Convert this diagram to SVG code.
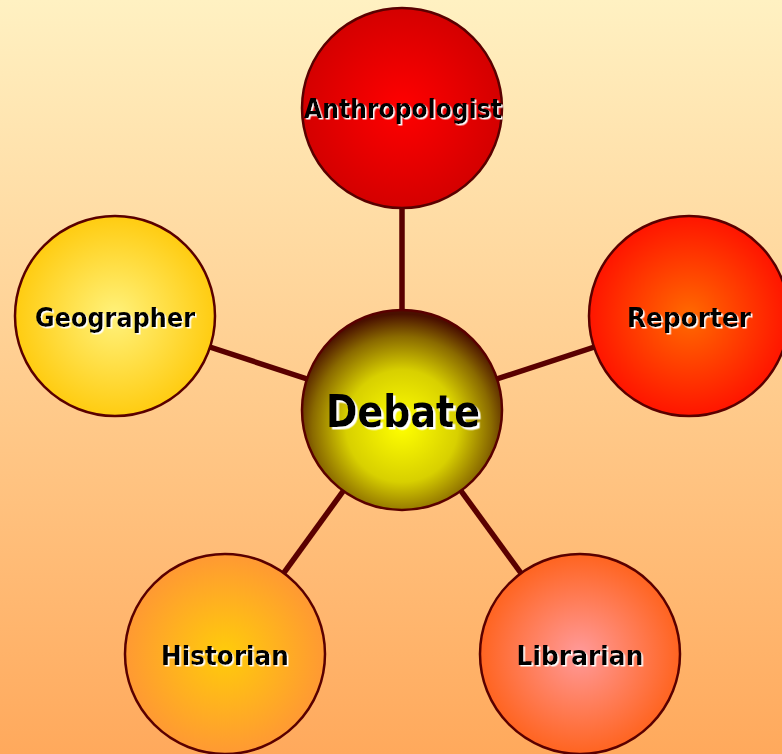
<svg xmlns="http://www.w3.org/2000/svg" width="782" height="754" viewBox="0 0 782 754">
<defs>
<linearGradient id="bg" x1="0" y1="0" x2="0" y2="1">
<stop offset="0" stop-color="#fff1c2"/>
<stop offset="1" stop-color="#ffa95c"/>
</linearGradient>
<radialGradient id="gDebate" cx="0.5" cy="0.58" r="0.56">
<stop offset="0" stop-color="#ffff00"/>
<stop offset="0.5" stop-color="#d8d000"/>
<stop offset="0.8" stop-color="#8a6a00"/>
<stop offset="1" stop-color="#4a1000"/>
</radialGradient>
<radialGradient id="gAnth" cx="0.5" cy="0.5" r="0.5">
<stop offset="0" stop-color="#ff0000"/>
<stop offset="1" stop-color="#d40000"/>
</radialGradient>
<radialGradient id="gGeo" cx="0.5" cy="0.5" r="0.5">
<stop offset="0" stop-color="#fff27c"/>
<stop offset="1" stop-color="#ffcc11"/>
</radialGradient>
<radialGradient id="gRep" cx="0.5" cy="0.5" r="0.5">
<stop offset="0" stop-color="#ff6a00"/>
<stop offset="1" stop-color="#ff1500"/>
</radialGradient>
<radialGradient id="gHist" cx="0.5" cy="0.5" r="0.5">
<stop offset="0" stop-color="#ffcc0a"/>
<stop offset="1" stop-color="#ff9933"/>
</radialGradient>
<radialGradient id="gLib" cx="0.5" cy="0.5" r="0.5">
<stop offset="0" stop-color="#ff9a9a"/>
<stop offset="1" stop-color="#ff6420"/>
</radialGradient>
<filter id="wsh" x="-10%" y="-20%" width="120%" height="140%">
<feDropShadow dx="1.5" dy="1.5" stdDeviation="0.3" flood-color="#ffffff" flood-opacity="1"/>
</filter>
<filter id="wshBig" x="-10%" y="-20%" width="120%" height="140%">
<feDropShadow dx="2.5" dy="2.5" stdDeviation="0.4" flood-color="#ffffff" flood-opacity="1"/>
</filter>
</defs>
<style>
.node{stroke:#5a0000;stroke-width:2.5}
.conn{stroke:#5a0000;stroke-width:5.5;fill:none}
.lbl{font-family:"Comic Sans MS","DejaVu Sans",sans-serif;font-weight:bold;text-anchor:middle;font-size:26px;fill:#000;filter:url(#wsh)}
.big{font-size:44px;filter:url(#wshBig)}
</style>
<rect x="0" y="0" width="782" height="754" fill="url(#bg)"/>
<g id="connectors">
<line class="conn" x1="402" y1="410" x2="402" y2="108"/>
<line class="conn" x1="402" y1="410" x2="115" y2="316"/>
<line class="conn" x1="402" y1="410" x2="689" y2="316"/>
<line class="conn" x1="402" y1="410" x2="225" y2="654"/>
<line class="conn" x1="402" y1="410" x2="580" y2="654"/>
</g>
<g id="anthropologist">
<circle class="node" cx="402" cy="108" r="100" fill="url(#gAnth)"/>
<text class="lbl" x="403" y="118" textLength="198" lengthAdjust="spacingAndGlyphs">Anthropologist</text>
</g>
<g id="geographer">
<circle class="node" cx="115" cy="316" r="100" fill="url(#gGeo)"/>
<text class="lbl" x="115" y="327" textLength="160" lengthAdjust="spacingAndGlyphs">Geographer</text>
</g>
<g id="reporter">
<circle class="node" cx="689" cy="316" r="100" fill="url(#gRep)"/>
<text class="lbl" x="689" y="327" textLength="124" lengthAdjust="spacingAndGlyphs">Reporter</text>
</g>
<g id="historian">
<circle class="node" cx="225" cy="654" r="100" fill="url(#gHist)"/>
<text class="lbl" x="225" y="665" textLength="128" lengthAdjust="spacingAndGlyphs">Historian</text>
</g>
<g id="librarian">
<circle class="node" cx="580" cy="654" r="100" fill="url(#gLib)"/>
<text class="lbl" x="580" y="665" textLength="127" lengthAdjust="spacingAndGlyphs">Librarian</text>
</g>
<g id="debate">
<circle class="node" cx="402" cy="410" r="100" fill="url(#gDebate)"/>
<text class="lbl big" x="403" y="427" textLength="154" lengthAdjust="spacingAndGlyphs">Debate</text>
</g>
</svg>
